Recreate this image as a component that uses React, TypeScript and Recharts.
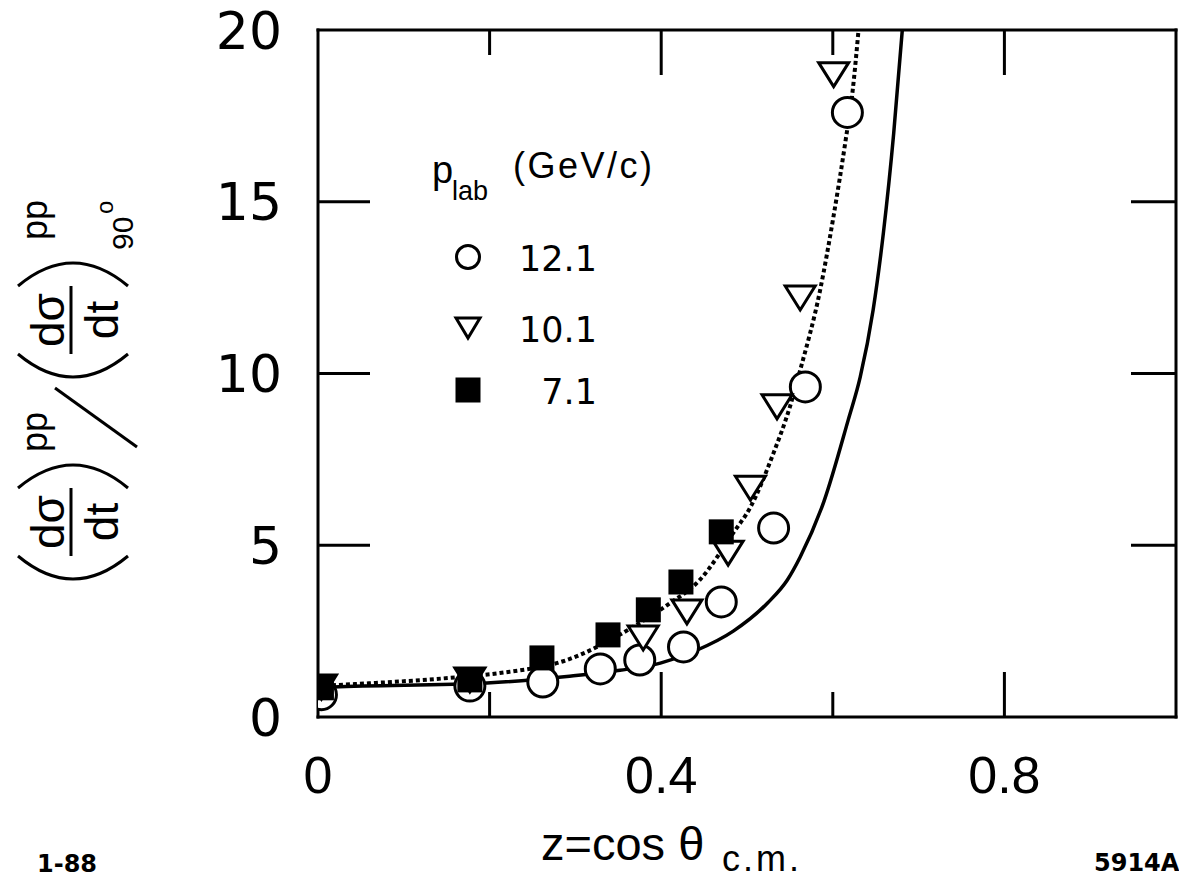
import React from 'react';
import { ComposedChart, XAxis, YAxis, Line, Scatter, Legend } from 'recharts';

// measured points, z = cos(theta c.m.) and the 90-degree-normalised ratio
const z121 = [0.004, 0.177, 0.262, 0.329, 0.375, 0.426, 0.470, 0.531, 0.568, 0.617];
const r121 = [0.65, 0.9, 1.02, 1.40, 1.66, 2.04, 3.35, 5.50, 9.61, 17.6];

const z101 = [0.004, 0.177, 0.379, 0.430, 0.478, 0.504, 0.535, 0.562, 0.601];
const r101 = [0.87, 1.08, 2.30, 3.06, 4.77, 6.66, 9.03, 12.2, 18.7];

const z71 = [0.004, 0.177, 0.261, 0.338, 0.385, 0.423, 0.470];
const r71 = [0.85, 1.08, 1.72, 2.39, 3.12, 3.93, 5.39];

// the two model curves
const solidZ = [0, 0.0175, 0.197, 0.290, 0.352, 0.399, 0.442, 0.484, 0.524, 0.547, 0.562, 0.590, 0.618, 0.632, 0.647, 0.659, 0.671, 0.681];
const solidR = [0.85, 0.87, 0.99, 1.18, 1.36, 1.57, 1.95, 2.50, 3.32, 3.99, 4.66, 6.3, 8.65, 9.9, 11.85, 14.1, 17.0, 20];

const dotZ = [0, 0.022, 0.154, 0.212, 0.290, 0.367, 0.407, 0.445, 0.484, 0.504, 0.531, 0.550, 0.562, 0.585, 0.601, 0.615, 0.623, 0.630];
const dotR = [0.9, 0.93, 1.14, 1.28, 1.66, 2.62, 3.26, 3.99, 5.36, 6.11, 7.69, 9.03, 10.1, 12.4, 14.6, 16.8, 18.2, 20];

const xTicks = [0, 0.2, 0.4, 0.6, 0.8, 1.0];
const xTickLabels = ['0', '', '0.4', '', '0.8', ''];
const yTicks = [0, 5, 10, 15, 20];
const yTickLabels = ['0', '5', '10', '15', '20'];

const pts = (zs: number[], rs: number[]) => zs.map((z, i) => ({ z, r: rs[i] }));

const OpenCircle = (p: any) => <circle cx={p.cx} cy={p.cy} r={15} fill="#fff" stroke="#000" strokeWidth={3} />;
const OpenTriangle = (p: any) => (
  <polygon
    points={`${p.cx - 15},${p.cy - 12} ${p.cx + 15},${p.cy - 12} ${p.cx},${p.cy + 12}`}
    fill="#fff"
    stroke="#000"
    strokeWidth={3}
  />
);
const FilledSquare = (p: any) => <rect x={p.cx - 12.5} y={p.cy - 12.5} width={25} height={25} fill="#000" />;

const series = [
  { name: '12.1', data: pts(z121, r121), shape: OpenCircle, kind: 'circle' },
  { name: '10.1', data: pts(z101, r101), shape: OpenTriangle, kind: 'triangle' },
  { name: '7.1', data: pts(z71, r71), shape: FilledSquare, kind: 'square' },
];

const BottomTick = (props: any) => {
  const { x, y, payload } = props;
  const i = xTicks.indexOf(payload.value);
  const len = i % 2 === 0 ? 45 : 25;
  const inner = payload.value > 0 && payload.value < 1;
  return (
    <g>
      {inner && <line x1={x} y1={y} x2={x} y2={y - len} stroke="#000" strokeWidth={3} />}
      <text x={x} y={y + 76} textAnchor="middle" fontSize={52} fontFamily="Liberation Sans, Arial" fill="#000">
        {xTickLabels[i]}
      </text>
    </g>
  );
};

const TopTick = (props: any) => {
  const { x, y, payload } = props;
  const i = xTicks.indexOf(payload.value);
  const len = i % 2 === 0 ? 45 : 25;
  if (!(payload.value > 0 && payload.value < 1)) return <g />;
  return <line x1={x} y1={y} x2={x} y2={y + len} stroke="#000" strokeWidth={3} />;
};

const LeftTick = (props: any) => {
  const { x, y, payload } = props;
  const i = yTicks.indexOf(payload.value);
  const inner = payload.value > 0 && payload.value < 20;
  return (
    <g>
      {inner && <line x1={x} y1={y} x2={x + 52} y2={y} stroke="#000" strokeWidth={3} />}
      <text x={x - 36} y={y} dy="0.36em" textAnchor="end" fontSize={52} fontFamily="DejaVu Sans" fill="#000">
        {yTickLabels[i]}
      </text>
    </g>
  );
};

const RightTick = (props: any) => {
  const { x, y, payload } = props;
  if (!(payload.value > 0 && payload.value < 20)) return <g />;
  return <line x1={x} y1={y} x2={x - 45} y2={y} stroke="#000" strokeWidth={3} />;
};

// rotated y title: (dσ/dt)^pp / (dσ/dt)^pp_90°
const Frac = ({ u }: { u: number }) => (
  <g>
    <path d={`M ${u - 34} 18 Q ${u - 80} 73 ${u - 34} 128`} fill="none" stroke="#000" strokeWidth={3} />
    <text x={u} y={64} textAnchor="middle" fontSize={46}>dσ</text>
    <line x1={u - 34} y1={71} x2={u + 34} y2={71} stroke="#000" strokeWidth={3} />
    <text x={u} y={118} textAnchor="middle" fontSize={46}>dt</text>
    <path d={`M ${u + 34} 18 Q ${u + 80} 73 ${u + 34} 128`} fill="none" stroke="#000" strokeWidth={3} />
  </g>
);

const YTitle = () => (
  <g transform="rotate(-90)" fontFamily="Liberation Sans, Arial" fill="#000">
    <Frac u={-522} />
    <text x={-452} y={47} fontSize={36}>pp</text>
    <line x1={-447} y1={137} x2={-388} y2={55} stroke="#000" strokeWidth={3} />
    <Frac u={-320} />
    <text x={-240} y={47} fontSize={36}>pp</text>
    <text x={-250} y={133} fontSize={30}>90</text>
    <text x={-214} y={113} fontSize={24}>o</text>
  </g>
);

const BottomTexts = () => (
  <g fill="#000">
    <text x={541} y={860} fontSize={47} fontFamily="Liberation Sans, Arial">
      z=cos θ
      <tspan x={722} y={871} fontSize={36} letterSpacing={3}>c.m.</tspan>
    </text>
    <text x={37} y={872} fontSize={24} fontWeight="bold" fontFamily="DejaVu Sans">1-88</text>
    <text x={1094} y={871} fontSize={24} fontWeight="bold" fontFamily="DejaVu Sans">5914A</text>
  </g>
);

const LegendBox = () => {
  const rows = [257, 328, 390];
  return (
    <svg width={300} height={300} style={{ overflow: 'visible' }}>
      <g transform="translate(-400,-130)" fill="#000" fontFamily="Liberation Sans, Arial">
        <text x={432} y={183} fontSize={38}>p</text>
        <text x={452} y={200} fontSize={27}>lab</text>
        <text x={513} y={178} fontSize={36} letterSpacing={2.5}>(GeV/c)</text>
        {series.map((s, i) => {
          const cy = rows[i];
          let mark;
          if (s.kind === 'circle') mark = <circle cx={468} cy={cy} r={11.5} fill="#fff" stroke="#000" strokeWidth={3} />;
          else if (s.kind === 'triangle')
            mark = <polygon points={`456,${cy - 10} 480,${cy - 10} 468,${cy + 10}`} fill="#fff" stroke="#000" strokeWidth={3} />;
          else mark = <rect x={455.5} y={cy - 12.5} width={25} height={25} fill="#000" />;
          return (
            <g key={s.name}>
              {mark}
              <text x={597} y={cy + 14} textAnchor="end" fontSize={35} fontFamily="DejaVu Sans">{s.name}</text>
            </g>
          );
        })}
      </g>
    </svg>
  );
};

const frameLine = { stroke: '#000', strokeWidth: 3, strokeLinecap: 'square' as const };

export default function App() {
  return (
    <div style={{ position: 'absolute', left: 0, top: 0, background: '#fff' }}>
      <ComposedChart width={1179} height={881} margin={{ top: 29, right: 2, bottom: 0, left: 0 }}>
        <XAxis
          xAxisId={0}
          dataKey="z"
          type="number"
          domain={[0, 1]}
          ticks={xTicks}
          interval={0}
          height={164}
          tickSize={0}
          tickMargin={0}
          tickLine={false}
          tick={<BottomTick />}
          axisLine={frameLine}
          allowDataOverflow
          label={<BottomTexts />}
        />
        <XAxis
          xAxisId="top"
          dataKey="z"
          orientation="top"
          type="number"
          domain={[0, 1]}
          ticks={xTicks}
          interval={0}
          height={1}
          tickSize={0}
          tickMargin={0}
          tickLine={false}
          tick={<TopTick />}
          axisLine={frameLine}
          allowDataOverflow
        />
        <YAxis
          yAxisId={0}
          type="number"
          domain={[0, 20]}
          ticks={yTicks}
          interval={0}
          width={318}
          tickSize={0}
          tickMargin={0}
          tickLine={false}
          tick={<LeftTick />}
          axisLine={frameLine}
          allowDataOverflow
          label={<YTitle />}
        />
        <YAxis
          yAxisId="right"
          orientation="right"
          type="number"
          domain={[0, 20]}
          ticks={yTicks}
          interval={0}
          width={1}
          tickSize={0}
          tickMargin={0}
          tickLine={false}
          tick={<RightTick />}
          axisLine={frameLine}
          allowDataOverflow
        />
        <Legend
          layout="vertical"
          align="center"
          verticalAlign="middle"
          content={<LegendBox />}
          wrapperStyle={{ left: 400, top: 130, width: 300, height: 300 }}
        />
        <Line
          xAxisId="top"
          yAxisId="right"
          data={pts(solidZ, solidR)}
          dataKey="r"
          type="monotone"
          stroke="#000"
          strokeWidth={3.5}
          dot={false}
          activeDot={false}
          isAnimationActive={false}
          legendType="none"
        />
        <Line
          data={pts(dotZ, dotR)}
          dataKey="r"
          type="monotone"
          stroke="#000"
          strokeWidth={4}
          strokeDasharray="4 3"
          dot={false}
          activeDot={false}
          isAnimationActive={false}
          legendType="none"
        />
        {series.map((s) => (
          <Scatter key={s.name} name={s.name} data={s.data} dataKey="r" shape={s.shape} isAnimationActive={false} />
        ))}
      </ComposedChart>
    </div>
  );
}
